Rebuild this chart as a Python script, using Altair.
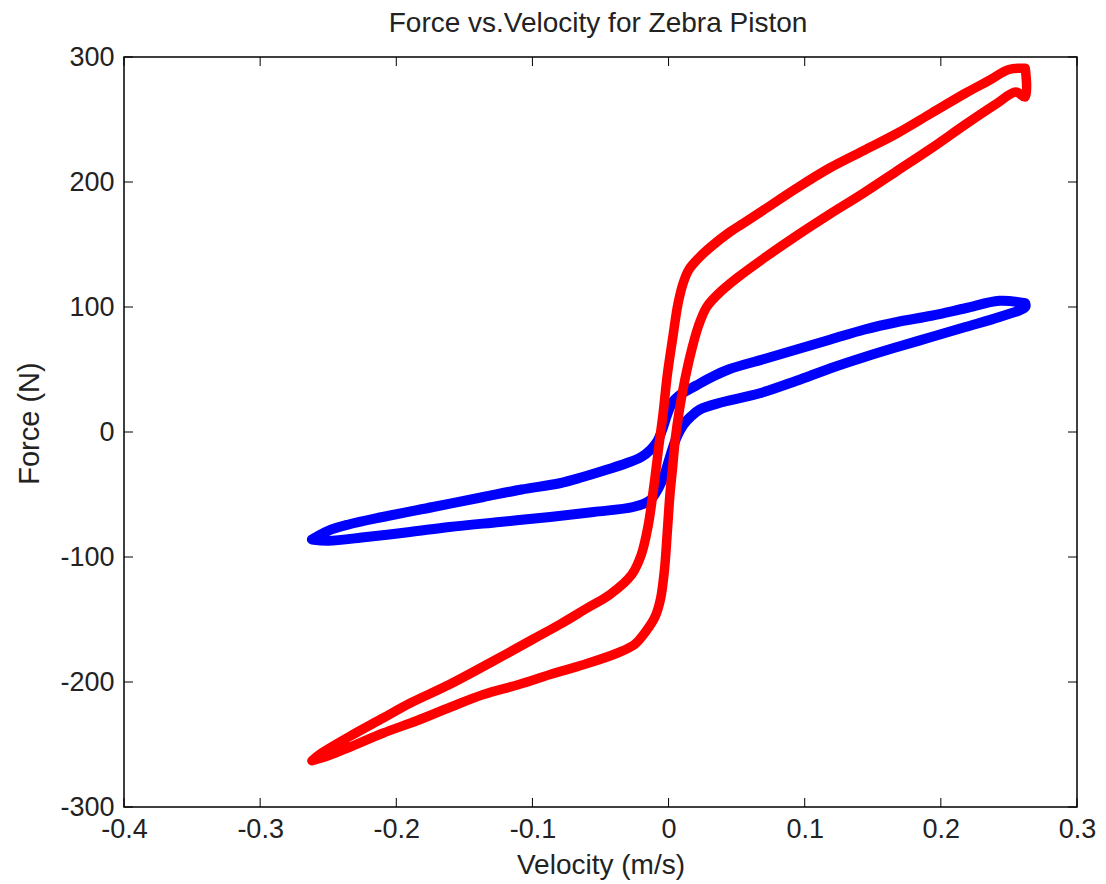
import altair as alt
import pandas as pd

# ---- data ----
red_upper_x = [0.262, 0.250, 0.235, 0.218, 0.193, 0.168, 0.143, 0.118, 0.094, 0.069, 0.055, 0.045,
               0.032, 0.022, 0.015, 0.011, 0.007, 0.003,
               -0.001, -0.004, -0.007, -0.011, -0.015, -0.020, -0.027, -0.043, -0.060, -0.080,
               -0.100, -0.130, -0.161, -0.190, -0.210, -0.235, -0.255, -0.262]
red_upper_y = [291, 290, 281, 271, 255, 239, 225, 211, 195, 177, 167, 160,
               149, 139, 130, 120, 103, 75,
               45, 15, -10, -45, -75, -98, -114, -130, -141, -154,
               -166, -184, -202, -217, -229, -244, -257, -263]
red_lower_x = [-0.262, -0.250, -0.234, -0.210, -0.185, -0.160, -0.136, -0.110, -0.087, -0.062,
               -0.038, -0.025, -0.017, -0.010, -0.006,
               -0.003, -0.001, 0.001, 0.003, 0.005, 0.008, 0.012, 0.017, 0.022, 0.028, 0.037,
               0.050, 0.070, 0.094, 0.118, 0.143, 0.168, 0.193, 0.218, 0.240, 0.255, 0.262, 0.262]
red_lower_y = [-263, -259, -252, -241, -231, -220, -210, -202, -194, -186,
               -177, -170, -160, -148, -134,
               -110, -81, -50, -28, -5, 18, 42, 66, 85, 100, 111,
               123, 139, 157, 174, 191, 209, 227, 246, 262, 272, 268, 291]

blue_upper_x = [0.262, 0.243, 0.218, 0.193, 0.168, 0.144, 0.119, 0.094, 0.069, 0.044, 0.030,
                0.020, 0.010, 0.003, -0.001, -0.004, -0.008,
                -0.013, -0.020, -0.031, -0.045, -0.063, -0.080, -0.108, -0.136, -0.173, -0.210,
                -0.235, -0.250, -0.262]
blue_upper_y = [103, 105, 99, 93, 88, 82, 74, 66, 58, 50, 43,
                37, 31, 24, 14, 4, -7,
                -14, -20, -25, -30, -36, -41, -46, -52, -60, -68,
                -74, -79, -86]
blue_lower_x = [-0.262, -0.250, -0.222, -0.190, -0.161, -0.124, -0.087, -0.055, -0.026, -0.014,
                -0.008, -0.003, 0.001, 0.006, 0.011, 0.016, 0.023, 0.040, 0.067, 0.094, 0.119,
                0.144, 0.168, 0.193, 0.218, 0.243, 0.262, 0.262]
blue_lower_y = [-86, -87, -84, -80, -76, -72, -68, -64, -60, -55,
                -46, -34, -20, -4, 6, 12, 18, 24, 31, 41, 51,
                60, 68, 76, 84, 92, 100, 103]

x_ticks = [-0.4, -0.3, -0.2, -0.1, 0.0, 0.1, 0.2, 0.3]
y_ticks = [-300, -200, -100, 0, 100, 200, 300]

title_text = "Force vs.Velocity for Zebra Piston"
x_title = "Velocity (m/s)"
y_title = "Force (N)"

W, H = 953, 750
FONT = "Liberation Sans"
TXT = "#222222"


def loop_frame(xu, yu, xl, yl):
    xs = list(xu) + list(xl)
    ys = list(yu) + list(yl)
    return pd.DataFrame({"v": xs, "f": ys, "i": list(range(len(xs)))})


red_df = loop_frame(red_upper_x, red_upper_y, red_lower_x, red_lower_y)
blue_df = loop_frame(blue_upper_x, blue_upper_y, blue_lower_x, blue_lower_y)

xscale = alt.Scale(domain=[-0.4, 0.3], nice=False, zero=False)
yscale = alt.Scale(domain=[-300, 300], nice=False, zero=False)

xaxis = alt.Axis(values=x_ticks, ticks=False, domain=False, grid=False,
                 labelExpr="datum.value < 0 ? '-' + format(-datum.value, '.1~f') : format(datum.value, '.1~f')",
                 labelFont=FONT, labelFontSize=27, labelColor=TXT, labelPadding=9,
                 labelFlush=False, labelOverlap=False,
                 title=x_title, titleFont=FONT, titleFontSize=28, titleFontWeight="normal",
                 titleColor=TXT, titleBaseline="alphabetic", titleY=66)
yaxis = alt.Axis(values=y_ticks, ticks=False, domain=False, grid=False,
                 labelExpr="datum.value < 0 ? '-' + format(-datum.value, 'd') : format(datum.value, 'd')",
                 labelFont=FONT, labelFontSize=27, labelColor=TXT, labelPadding=10,
                 labelFlush=False, labelOverlap=False,
                 title=y_title, titleFont=FONT, titleFontSize=29, titleFontWeight="normal",
                 titleColor=TXT, titleBaseline="alphabetic", titleX=-86, titleY=366,
                 titleAngle=270)

blue = alt.Chart(blue_df).mark_line(color="#0000FF", strokeWidth=10, strokeJoin="round",
                                    strokeCap="round", interpolate="catmull-rom").encode(
    x=alt.X("v:Q", scale=xscale, axis=xaxis),
    y=alt.Y("f:Q", scale=yscale, axis=yaxis),
    order="i:Q",
)
red = alt.Chart(red_df).mark_line(color="#FF0000", strokeWidth=9.5, strokeJoin="round",
                                  strokeCap="round", interpolate="catmull-rom").encode(
    x=alt.X("v:Q", scale=xscale),
    y=alt.Y("f:Q", scale=yscale),
    order="i:Q",
)

xt = pd.DataFrame({"t": x_ticks})
yt = pd.DataFrame({"t": y_ticks})
TL = 9
bottom_ticks = alt.Chart(xt).mark_rule(color="black", strokeWidth=1).encode(
    x=alt.X("t:Q", scale=xscale), y=alt.value(H), y2=alt.value(H - TL))
top_ticks = alt.Chart(xt).mark_rule(color="black", strokeWidth=1).encode(
    x=alt.X("t:Q", scale=xscale), y=alt.value(0), y2=alt.value(TL))
left_ticks = alt.Chart(yt).mark_rule(color="black", strokeWidth=1).encode(
    y=alt.Y("t:Q", scale=yscale), x=alt.value(0), x2=alt.value(TL))
right_ticks = alt.Chart(yt).mark_rule(color="black", strokeWidth=1).encode(
    y=alt.Y("t:Q", scale=yscale), x=alt.value(W), x2=alt.value(W - TL))

title_df = pd.DataFrame({"label": [title_text]})
title_mark = alt.Chart(title_df).mark_text(
    font=FONT, fontSize=28, color=TXT, align="center", baseline="alphabetic"
).encode(text="label:N", x=alt.value(474), y=alt.value(-25))

chart = alt.layer(blue, red, bottom_ticks, top_ticks, left_ticks, right_ticks, title_mark).properties(
    width=W, height=H,
    autosize=alt.AutoSizeParams(type="none"),
    padding={"left": 124, "top": 57, "right": 29, "bottom": 77},
    background="white",
).configure_view(stroke="black", strokeWidth=1.5)

chart.save("out.html", embed_options={"renderer": "svg", "actions": False})
